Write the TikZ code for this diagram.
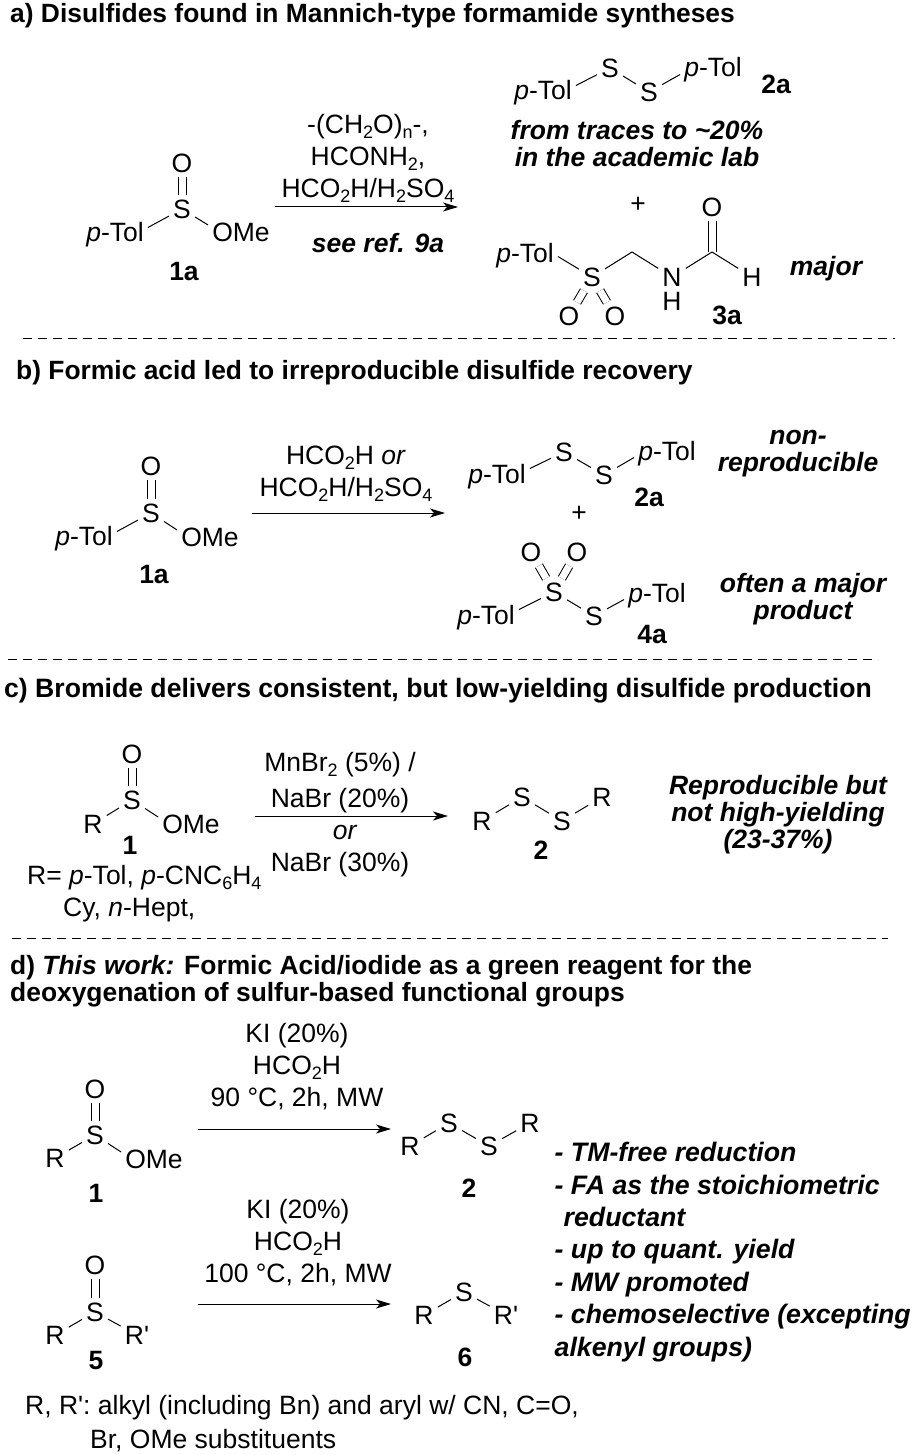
\documentclass[tikz,border=0pt]{standalone}
\usepackage{fontspec}
\setmainfont{Liberation Sans}
\usepackage{tikz}
\usetikzlibrary{arrows.meta}
\newcommand{\tol}{\textit{p}-Tol}
\newcommand{\subs}[1]{\raisebox{-5pt}{\fontsize{18}{18}\selectfont #1}}
\tikzstyle{atom} = [inner sep=4pt, text height=19pt, text depth=0pt, font=\fontsize{26.5}{31}\selectfont]
\tikzstyle{bond} = [draw, line width=1pt]
\tikzstyle{dbond} = [draw, line width=1pt, double, double distance=7pt]
\tikzstyle{line} = [draw, line width=1pt, -{Stealth[length=15pt,width=9pt,inset=4pt]}]
\tikzstyle{split} = [draw, line width=1pt, dash pattern=on 9pt off 6pt]
\tikzstyle{num} = [inner sep=0pt, text height=19pt, text depth=0pt, font=\fontsize{26.5}{31}\selectfont\bfseries]
\tikzstyle{cond} = [inner sep=0pt, align=center, font=\fontsize{26.5}{32}\selectfont]
\tikzstyle{note} = [inner sep=0pt, align=center, font=\fontsize{26.5}{27}\selectfont\bfseries\itshape]
\tikzstyle{head} = [inner sep=0pt, anchor=west, text height=19pt, text depth=0pt, font=\fontsize{26.4}{27}\selectfont\bfseries]
\tikzstyle{plain} = [inner sep=0pt, anchor=west, text height=19pt, text depth=0pt, font=\fontsize{26.5}{31}\selectfont]
\begin{document}
\begin{tikzpicture}[x=1pt, y=-1pt]
			\useasboundingbox (0,0) rectangle (913,1455);
			% panel a
			\node [head] (heada) at (10,13) {a) Disulfides found in Mannich-type formamide syntheses};
			\node [atom] (sulfa) at (182,209) {S};
			\node [atom, above of=sulfa, node distance=46pt] (oxa) {O};
			\node [atom] (tola) at (115,231.5) {\tol};
			\node [atom] (omea) at (241,232) {OMe};
			\node [num] (numa) at (184,271) {1a};
			\coordinate (arra) at (275,207);
			\coordinate (arrb) at (458,207);
			\node [cond] (conda) at (368,158) {-(CH\subs{2}O)\subs{n}-,\\HCONH\subs{2},\\HCO\subs{2}H/H\subs{2}SO\subs{4}};
			\node [note] (seea) at (378,243) {see ref. 9a};
			\node [atom] (ssa) at (610,68) {S};
			\node [atom] (ssb) at (649,92) {S};
			\node [atom] (tolb) at (543,90.5) {\tol};
			\node [atom] (tolc) at (713,67.5) {\tol};
			\node [num] (numb) at (776,84) {2a};
			\node [note] (notea) at (637,144) {from traces to \textasciitilde20\%\\in the academic lab};
			\node [atom] (plusa) at (638,203) {+};
			\node [atom] (sulfb) at (592,277) {S};
			\node [atom] (told) at (525,252.5) {\tol};
			\node [atom] (oxb) at (569,316) {O};
			\node [atom] (oxc) at (615,316) {O};
			\coordinate (cha) at (632,252);
			\node [atom] (nit) at (672,277) {N};
			\node [atom, inner sep=0pt, below of=nit, node distance=24pt] (hyda) {H};
			\coordinate (cfa) at (712,252);
			\node [atom] (oxd) at (712,207) {O};
			\node [atom] (hydb) at (752,277) {H};
			\node [note] (majora) at (826,269) {major};
			\node [num] (numc) at (727,315) {3a};
			\path [dbond] (sulfa) -- (oxa);
			\path [bond] ([yshift=4pt]tola.east) -- (sulfa);
			\path [bond] (sulfa) -- ([yshift=7pt]omea.west);
			\path [line] (arra) -- (arrb);
			\path [bond] ([yshift=5pt]tolb.east) -- (ssa);
			\path [bond] (ssa) -- (ssb);
			\path [bond] (ssb) -- ([yshift=-7pt]tolc.west);
			\path [bond] ([yshift=-4pt]told.east) -- (sulfb);
			\path [dbond] (sulfb) -- (oxb);
			\path [dbond] (sulfb) -- (oxc);
			\path [bond] (sulfb) -- (cha);
			\path [bond] (cha) -- (nit);
			\path [dbond] (cfa) -- (oxd);
			\path [bond] (nit) -- (cfa);
			\path [bond] (cfa) -- (hydb);
			\coordinate (cuta) at (23,338);
			\coordinate (cutb) at (895,338);
			\path [split] (cuta) -- (cutb);
			% panel b
			\node [head] (headb) at (16,370) {b) Formic acid led to irreproducible disulfide recovery};
			\node [atom] (sulfc) at (151,513) {S};
			\node [atom, above of=sulfc, node distance=47pt] (oxe) {O};
			\node [atom] (tole) at (84,535.5) {\tol};
			\node [atom] (omeb) at (210,537) {OMe};
			\node [num] (numd) at (154,574) {1a};
			\coordinate (arrc) at (252,513);
			\coordinate (arrd) at (445,513);
			\node [cond] (condb) at (346,474) {HCO\subs{2}H \textit{or}\\HCO\subs{2}H/H\subs{2}SO\subs{4}};
			\node [atom] (ssc) at (564,452) {S};
			\node [atom] (ssd) at (604,475) {S};
			\node [atom] (tolf) at (497,473.5) {\tol};
			\node [atom] (tolg) at (667,450.5) {\tol};
			\node [num] (nume) at (649,497) {2a};
			\node [note] (noteb) at (798,454) {non-\\reproducible};
			\node [atom] (plusb) at (579,512) {+};
			\node [atom] (sulfd) at (554,592) {S};
			\node [atom] (oxf) at (531,552) {O};
			\node [atom] (oxg) at (577,552) {O};
			\node [atom] (sse) at (594,616) {S};
			\node [atom] (tolh) at (486,614.5) {\tol};
			\node [atom] (toli) at (657,592.5) {\tol};
			\node [num] (numf) at (652,634) {4a};
			\node [note] (notec) at (803,599) {often a major\\product};
			\path [dbond] (sulfc) -- (oxe);
			\path [bond] ([yshift=4pt]tole.east) -- (sulfc);
			\path [bond] (sulfc) -- ([yshift=7pt]omeb.west);
			\path [line] (arrc) -- (arrd);
			\path [bond] ([yshift=5pt]tolf.east) -- (ssc);
			\path [bond] (ssc) -- (ssd);
			\path [bond] (ssd) -- ([yshift=-7pt]tolg.west);
			\path [dbond] (sulfd) -- (oxf);
			\path [dbond] (sulfd) -- (oxg);
			\path [bond] ([yshift=5pt]tolh.east) -- (sulfd);
			\path [bond] (sulfd) -- (sse);
			\path [bond] (sse) -- ([yshift=-7pt]toli.west);
			\coordinate (cutc) at (8,659);
			\coordinate (cutd) at (878,659);
			\path [split] (cutc) -- (cutd);
			% panel c
			\node [head, font=\fontsize{26.6}{27}\selectfont\bfseries] (headc) at (4,688) {c) Bromide delivers consistent, but low-yielding disulfide production};
			\node [atom] (sulfe) at (132,800) {S};
			\node [atom, above of=sulfe, node distance=46pt] (oxh) {O};
			\node [atom] (ra) at (93,824) {R};
			\node [atom] (omec) at (191,824) {OMe};
			\node [num] (numg) at (130,845) {1};
			\node [plain] (rlista) at (27,875) {R= \textit{p}-Tol, \textit{p}-CNC\subs{6}H\subs{4}};
			\node [plain] (rlistb) at (63,907) {Cy, \textit{n}-Hept,};
			\coordinate (arre) at (255,816);
			\coordinate (arrf) at (448,816);
			\node [cond] (condc) at (340,765) {MnBr\subs{2} (5\%) /};
			\node [cond] (condd) at (340,801) {NaBr (20\%)};
			\node [cond] (conde) at (345,832) {\textit{or}};
			\node [cond] (condf) at (340,865) {NaBr (30\%)};
			\node [atom] (rb) at (482,821) {R};
			\node [atom] (ssf) at (522,797) {S};
			\node [atom] (ssg) at (562,821) {S};
			\node [atom] (rc) at (602,797) {R};
			\node [num] (numh) at (541,850) {2};
			\node [note] (noted) at (778,815) {Reproducible but\\not high-yielding\\(23-37\%)};
			\path [dbond] (sulfe) -- (oxh);
			\path [bond] (ra) -- (sulfe);
			\path [bond] (sulfe) -- ([yshift=7pt]omec.west);
			\path [line] (arre) -- (arrf);
			\path [bond] (rb) -- (ssf);
			\path [bond] (ssf) -- (ssg);
			\path [bond] (ssg) -- (rc);
			\coordinate (cute) at (12,938);
			\coordinate (cutf) at (888,938);
			\path [split] (cute) -- (cutf);
			% panel d
			\node [head] (headd) at (10,965) {d) \textit{This work:} Formic Acid/iodide as a green reagent for the};
			\node [head] (heade) at (10,992) {deoxygenation of sulfur-based functional groups};
			\node [atom] (sulff) at (95,1135) {S};
			\node [atom, above of=sulff, node distance=46pt] (oxi) {O};
			\node [atom] (rd) at (55,1158) {R};
			\node [atom] (omed) at (154,1159) {OMe};
			\node [num] (numi) at (96,1193) {1};
			\coordinate (arrg) at (198,1129);
			\coordinate (arrh) at (391,1129);
			\node [cond] (condg) at (297,1067) {KI (20\%)\\HCO\subs{2}H\\90 °C, 2h, MW};
			\node [atom] (re) at (410,1146) {R};
			\node [atom] (ssh) at (449,1123) {S};
			\node [atom] (ssi) at (489,1146) {S};
			\node [atom] (rf) at (530,1123) {R};
			\node [num] (numj) at (469,1188) {2};
			\node [atom] (sulfg) at (95,1312) {S};
			\node [atom, above of=sulfg, node distance=47pt] (oxj) {O};
			\node [atom] (rg) at (55,1335) {R};
			\node [atom] (rh) at (137,1335) {R\textquotesingle};
			\node [num] (numk) at (96,1360) {5};
			\coordinate (arri) at (198,1304);
			\coordinate (arrj) at (391,1304);
			\node [cond] (condh) at (298,1243) {KI (20\%)\\HCO\subs{2}H\\100 °C, 2h, MW};
			\node [atom] (ri) at (424,1315) {R};
			\node [atom] (ssj) at (464,1292) {S};
			\node [atom] (rj) at (506,1315) {R\textquotesingle};
			\node [num] (numl) at (465,1357) {6};
			\node [inner sep=0pt, anchor=west, align=left, font=\fontsize{26.7}{32.4}\selectfont\bfseries\itshape] (perks) at (554.5,1252) {- TM-free reduction\\- FA as the stoichiometric\\\hspace*{9pt}reductant\\- up to quant. yield\\- MW promoted\\- chemoselective (excepting\\alkenyl groups)};
			\node [plain] (foota) at (25,1405) {R, R\textquotesingle: alkyl (including Bn) and aryl w/ CN, C=O,};
			\node [plain] (footb) at (90,1439) {Br, OMe substituents};
			\path [dbond] (sulff) -- (oxi);
			\path [bond] (rd) -- (sulff);
			\path [bond] (sulff) -- ([yshift=7pt]omed.west);
			\path [line] (arrg) -- (arrh);
			\path [bond] (re) -- (ssh);
			\path [bond] (ssh) -- (ssi);
			\path [bond] (ssi) -- (rf);
			\path [dbond] (sulfg) -- (oxj);
			\path [bond] (rg) -- (sulfg);
			\path [bond] (sulfg) -- (rh);
			\path [line] (arri) -- (arrj);
			\path [bond] (ri) -- (ssj);
			\path [bond] (ssj) -- (rj);
		\end{tikzpicture}
\end{document}
